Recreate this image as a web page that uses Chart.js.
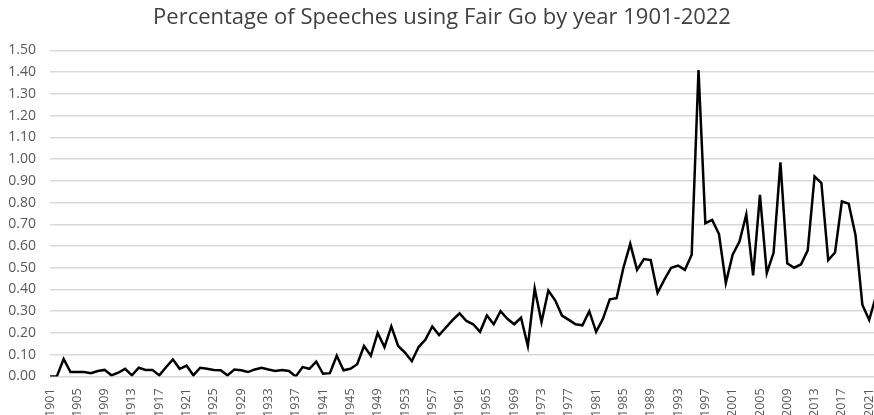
<!DOCTYPE html>
<html>
<head>
<meta charset="utf-8">
<script src="https://cdn.jsdelivr.net/npm/chart.js@4.4.1/dist/chart.umd.min.js"></script>
<style>
  html, body { margin: 0; padding: 0; background: #fff; overflow: hidden; }
  #wrap { position: absolute; left: 0; top: 0; width: 876px; height: 421px; }
</style>
</head>
<body>
<div id="wrap"><canvas id="fairGoChart"></canvas></div>
<script>
const chartTitle = "Percentage of Speeches using Fair Go by year 1901-2022";

const firstYear = 1901;
const years = [];
for (let y = firstYear; y <= 2022; y++) years.push(String(y));

// percentage per year
const percentValues = [
  0.00, 0.00, 0.08, 0.02, 0.02, 0.02, 0.015, 0.025, 0.03, 0.005,   // 1901-1910
  0.017, 0.035, 0.005, 0.04, 0.03, 0.03, 0.005, 0.042, 0.078, 0.035, // 1911-1920
  0.05, 0.005, 0.04, 0.035, 0.03, 0.028, 0.005, 0.032, 0.028, 0.02,  // 1921-1930
  0.032, 0.04, 0.032, 0.025, 0.03, 0.025, 0.00, 0.043, 0.035, 0.068, // 1931-1940
  0.012, 0.015, 0.095, 0.028, 0.035, 0.056, 0.14, 0.095, 0.20, 0.135, // 1941-1950
  0.23, 0.14, 0.11, 0.07, 0.135, 0.17, 0.23, 0.19, 0.225, 0.26,      // 1951-1960
  0.29, 0.255, 0.24, 0.205, 0.28, 0.24, 0.30, 0.265, 0.24, 0.27,     // 1961-1970
  0.14, 0.405, 0.25, 0.395, 0.35, 0.28, 0.26, 0.24, 0.235, 0.30,     // 1971-1980
  0.205, 0.265, 0.355, 0.36, 0.50, 0.61, 0.49, 0.54, 0.535, 0.385,   // 1981-1990
  0.445, 0.50, 0.51, 0.49, 0.56, 1.41, 0.705, 0.72, 0.655, 0.43,     // 1991-2000
  0.56, 0.62, 0.745, 0.465, 0.835, 0.475, 0.57, 0.985, 0.52, 0.50,   // 2001-2010
  0.515, 0.58, 0.92, 0.89, 0.535, 0.57, 0.805, 0.795, 0.65, 0.33,    // 2011-2020
  0.26, 0.37                                                         // 2021-2022
];

const yMin = 0;
const yMax = 1.5;
const yStep = 0.1;
const labelEvery = 4;

const ctx = document.getElementById("fairGoChart").getContext("2d");
new Chart(ctx, {
  type: "line",
  data: {
    labels: years,
    datasets: [{
      label: "Fair Go",
      data: percentValues,
      borderColor: "#000000",
      borderWidth: 2.5,
      pointRadius: 0,
      tension: 0,
      fill: false
    }]
  },
  options: {
    responsive: true,
    maintainAspectRatio: false,
    animation: false,
    layout: { padding: { left: 8, right: 0, top: 0, bottom: 0 } },
    plugins: {
      legend: { display: false },
      tooltip: { enabled: false },
      title: {
        display: true,
        text: chartTitle,
        color: "#404040",
        font: { family: "Open Sans", size: 22, weight: "normal" },
        padding: { top: 5, bottom: 19 }
      }
    },
    scales: {
      x: {
        offset: false,
        grid: { display: false },
        border: { display: false },
        // the original plot runs right to the edge of the picture
        afterFit: scale => { scale.paddingRight = 0; },
        ticks: {
          autoSkip: false,
          maxRotation: 90,
          minRotation: 90,
          color: "#595959",
          font: { family: "Open Sans", size: 12.5 },
          padding: 4,
          callback: function (val, index) {
            return index % labelEvery === 0 ? years[index] : "";
          }
        }
      },
      y: {
        min: yMin,
        max: yMax,
        border: { display: false },
        grid: { color: "#d9d9d9", lineWidth: 1.5, drawTicks: false },
        afterFit: scale => { scale.width = 42; },
        ticks: {
          stepSize: yStep,
          color: "#595959",
          font: { family: "Open Sans", size: 14 },
          padding: 14,
          callback: v => v.toFixed(2)
        }
      }
    }
  }
});
</script>
</body>
</html>
